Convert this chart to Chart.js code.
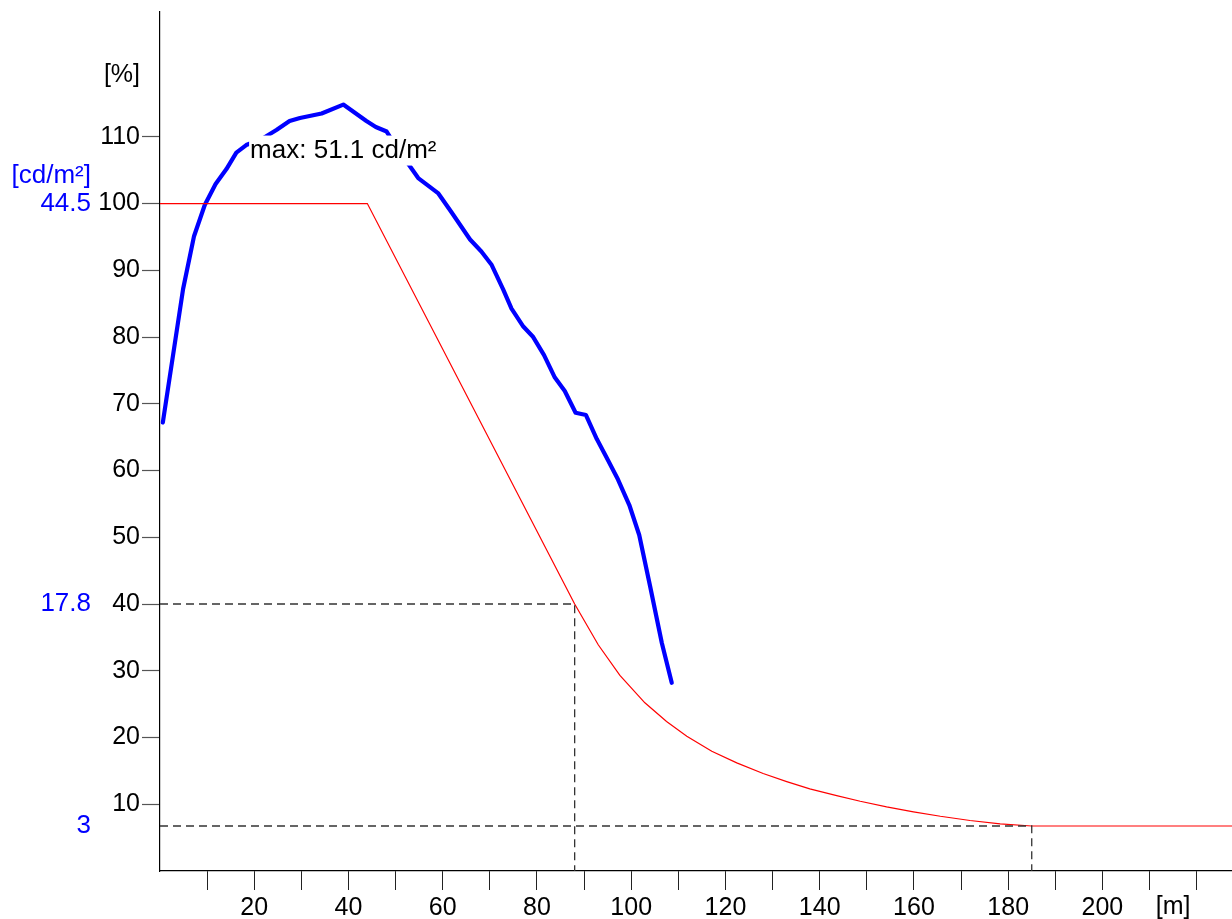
<!DOCTYPE html>
<html>
<head>
<meta charset="utf-8">
<script src="https://cdn.jsdelivr.net/npm/chart.js@4/dist/chart.umd.min.js"></script>
<style>
  html, body { margin: 0; padding: 0; background: #fff; }
  #wrap { width: 1232px; height: 919px; position: relative; }
</style>
</head>
<body>
<div id="wrap"><canvas id="chart"></canvas></div>
<script>
// measured luminance along the tunnel
const blueX = [0.6, 4.9, 7.2, 9.5, 11.8, 14.1, 16.2, 18.3, 21.6, 24.7, 27.5, 29.7, 34.3, 38.9,
  43.8, 45.8, 48.1, 50.5, 53.0, 54.8, 59.0, 61.9, 65.8, 68.2, 70.4, 72.8, 74.6, 77.1, 79.2,
  81.5, 83.8, 85.9, 88.2, 90.4, 92.7, 94.8, 97.2, 99.6, 101.7, 104.0, 106.5, 108.6];
const blueL = [29.9, 38.8, 42.3, 44.4, 45.8, 46.8, 47.9, 48.4, 48.8, 49.4, 50.0, 50.2, 50.5, 51.1,
  50.0, 49.6, 49.3, 48.1, 47.0, 46.2, 45.2, 43.9, 42.1, 41.3, 40.4, 38.8, 37.5, 36.3, 35.6,
  34.4, 32.9, 32.0, 30.55, 30.4, 28.8, 27.55, 26.1, 24.4, 22.4, 19.0, 15.2, 12.55];

// required curve in %
const redX = [0, 44, 88, 93.0, 97.6, 102.9, 107.5, 111.8, 117.1, 122.4, 128.0, 133.0, 137.9,
  143.6, 148.6, 154.2, 159.9, 165.6, 171.9, 178.3, 185, 230];
const redPct = [100, 100, 40, 33.9, 29.3, 25.2, 22.4, 20.2, 17.95, 16.2, 14.6, 13.4, 12.3,
  11.3, 10.45, 9.6, 8.87, 8.2, 7.57, 7.07, 6.74, 6.74];

// guide lines
const guide1X = [0, 88, 88];
const guide1Y = [40, 40, 0];
const guide2X = [0, 185, 185];
const guide2Y = [6.74, 6.74, 0];

const refLum = 44.5;   // cd/m² that is 100 %
const pctMax = 128.7;
const distMax = 227.5;

const distTicks = [10, 20, 30, 40, 50, 60, 70, 80, 90, 100, 110, 120, 130, 140, 150, 160, 170, 180, 190, 200, 210, 220];
const distLabels = [20, 40, 60, 80, 100, 120, 140, 160, 180, 200];
const pctTicks = [10, 20, 30, 40, 50, 60, 70, 80, 90, 100, 110, 119.2];
const pctLabels = ['10', '20', '30', '40', '50', '60', '70', '80', '90', '100', '110', '[%]'];
const lumTicks = [3, 17.8, 44.5, 46.35];
const lumLabels = ['3', '17.8', '44.5', '[cd/m²]'];

const pts = (xs, ys) => xs.map((x, i) => ({ x: x, y: ys[i] }));
const noPad = s => { s.paddingTop = 0; s.paddingBottom = 0; s.paddingLeft = 0; s.paddingRight = 0; };
const unitTick = pctTicks[pctTicks.length - 1];

Chart.defaults.font.family = "'Liberation Sans', Arial, sans-serif";
Chart.defaults.color = '#000';

const extras = {
  id: 'extras',
  afterDatasetsDraw(chart) {
    const { ctx, scales } = chart;
    const i = blueL.indexOf(Math.max(...blueL));
    const px = scales.x.getPixelForValue(blueX[i]);
    const py = scales.yL.getPixelForValue(blueL[i]) + 46;
    const text = 'max: ' + blueL[i].toFixed(1) + ' cd/m²';
    ctx.save();
    ctx.font = "26px 'Liberation Sans', Arial, sans-serif";
    const w = ctx.measureText(text).width;
    ctx.fillStyle = '#fff';
    ctx.fillRect(px - w / 2 - 1, py - 15, w + 2, 30);
    ctx.fillStyle = '#000';
    ctx.textAlign = 'center';
    ctx.textBaseline = 'middle';
    ctx.fillText(text, px, py);
    ctx.restore();
  },
  afterDraw(chart) {
    const { ctx, scales } = chart;
    ctx.save();
    ctx.font = "25px 'Liberation Sans', Arial, sans-serif";
    ctx.fillStyle = '#000';
    ctx.textAlign = 'center';
    ctx.textBaseline = 'middle';
    ctx.fillText('[m]', scales.x.getPixelForValue(215), scales.x.top + 36);
    ctx.restore();
  }
};

new Chart(document.getElementById('chart'), {
  type: 'line',
  data: {
    datasets: [
      {
        label: 'guide 40 %',
        data: pts(guide1X, guide1Y),
        yAxisID: 'y',
        borderColor: '#333',
        borderWidth: 1.3,
        borderDash: [8, 5],
        pointRadius: 0
      }, {
        label: 'guide 3 cd/m²',
        data: pts(guide2X, guide2Y),
        yAxisID: 'y',
        borderColor: '#333',
        borderWidth: 1.3,
        borderDash: [8, 5],
        pointRadius: 0
      }, {
        label: 'required',
        data: pts(redX, redPct),
        yAxisID: 'y',
        borderColor: '#ff0000',
        borderWidth: 1.2,
        pointRadius: 0
      }, {
        label: 'measured',
        data: pts(blueX, blueL),
        yAxisID: 'yL',
        borderColor: '#0000ff',
        borderWidth: 4.2,
        borderJoinStyle: 'round',
        borderCapStyle: 'round',
        pointRadius: 0
      }
    ]
  },
  options: {
    responsive: true,
    maintainAspectRatio: false,
    animation: false,
    layout: { padding: { top: 12, right: 0, bottom: 0, left: 0 } },
    elements: { line: { tension: 0, fill: false } },
    plugins: { legend: { display: false }, tooltip: { enabled: false } },
    scales: {
      x: {
        type: 'linear',
        min: 0,
        max: distMax,
        afterBuildTicks: s => { s.ticks = distTicks.map(v => ({ value: v })); },
        afterFit: s => { s.height = 48; noPad(s); },
        ticks: {
          font: { size: 25 },
          padding: 3,
          maxRotation: 0,
          autoSkip: false,
          callback: v => distLabels.includes(v) ? String(v) : ''
        },
        grid: { drawOnChartArea: false, tickLength: 19, tickColor: '#222', tickWidth: 1 },
        border: { color: '#000', width: 1.2 }
      },
      y: {
        position: 'left',
        weight: 0,
        min: 0,
        max: pctMax,
        afterBuildTicks: s => { s.ticks = pctTicks.map(v => ({ value: v })); },
        afterFit: s => { s.width = 67; noPad(s); },
        ticks: {
          font: { size: 25 },
          padding: 2,
          autoSkip: false,
          callback: v => pctLabels[pctTicks.indexOf(v)]
        },
        grid: {
          drawOnChartArea: false,
          tickLength: 18,
          tickWidth: 1.2,
          tickColor: c => c.tick && c.tick.value === unitTick ? 'rgba(0,0,0,0)' : '#555'
        },
        border: { color: '#000', width: 1.2 }
      },
      yL: {
        position: 'left',
        weight: 1,
        min: 0,
        max: pctMax * refLum / 100,
        afterBuildTicks: s => { s.ticks = lumTicks.map(v => ({ value: v })); },
        afterFit: s => { s.width = 93; noPad(s); },
        ticks: {
          color: '#0000ff',
          font: { size: 26 },
          padding: 2,
          autoSkip: false,
          callback: v => lumLabels[lumTicks.indexOf(v)]
        },
        grid: { display: false, drawTicks: false },
        border: { display: false }
      }
    }
  },
  plugins: [extras]
});
</script>
</body>
</html>
